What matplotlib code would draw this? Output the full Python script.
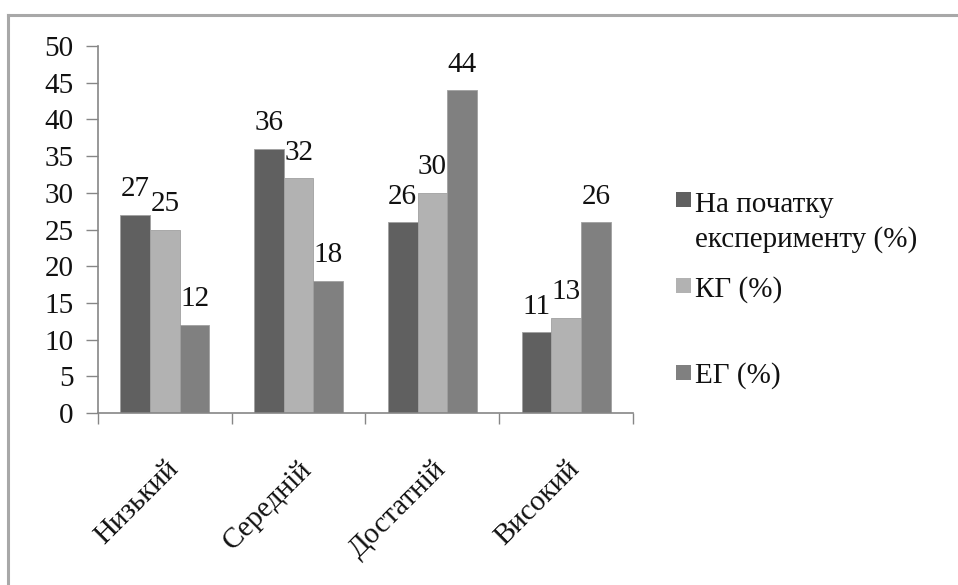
import matplotlib
matplotlib.use("Agg")
import matplotlib.pyplot as plt
import numpy as np
from matplotlib.lines import Line2D
from matplotlib import font_manager as fm

categories = ["Низький", "Середній", "Достатній", "Високий"]
legend_lines = [["На початку", "експерименту (%)"], ["КГ (%)"], ["ЕГ (%)"]]
start_vals = [27, 36, 26, 11]
kg_vals = [25, 32, 30, 13]
eg_vals = [12, 18, 44, 26]
yticks = [0, 5, 10, 15, 20, 25, 30, 35, 40, 45, 50]

colors = ["#606060", "#b2b2b2", "#808080"]
FS = 21

# locate the Liberation Serif regular file directly
serif_path = None
for f in fm.fontManager.ttflist:
    if f.fname.endswith("LiberationSerif-Regular.ttf"):
        serif_path = f.fname
        break
if serif_path is None:
    serif_path = fm.findfont(fm.FontProperties(family="Liberation Serif"))
fm.fontManager.addfont(serif_path)
FP = fm.FontProperties(fname=serif_path, size=FS)
plt.rcParams['font.family'] = 'Liberation Serif'

W, H = 958, 585
fig = plt.figure(figsize=(W/100, H/100), dpi=100)
ax = fig.add_axes([98/W, 1-413/H, (633-98)/W, (413-46)/H])

x = np.arange(len(categories))
bw = 1/4.5
series = [start_vals, kg_vals, eg_vals]
for i, vals in enumerate(series):
    pos = x + (i-1)*bw
    bars = ax.bar(pos, vals, width=bw, color=colors[i], edgecolor="#a0a0a0", linewidth=0.6, zorder=2)
    for b, v in zip(bars, vals):
        ax.annotate(str(v), (b.get_x()+b.get_width()/2, v), xytext=(0, 9), textcoords="offset points",
                    ha="center", va="bottom", color="#111111", fontproperties=FP)

ax.set_xlim(-0.5, 3.5)
ax.set_ylim(0, 50)
ax.set_yticks(yticks)
ax.tick_params(axis='y', direction='out', length=8.6, width=1, color="#868686", pad=9, labelcolor="#111111")
ax.set_xticks(x)
ax.set_xticklabels(categories, rotation=45, ha='right', rotation_mode='anchor', color="#111111", fontproperties=FP)
ax.tick_params(axis='x', length=0, pad=31)
ax.set_xticks(np.arange(-0.5, 4.0, 1.0), minor=True)
ax.tick_params(axis='x', which='minor', direction='out', length=8, width=1, color="#868686")
ax.set_yticklabels([str(t) for t in yticks], fontproperties=FP)
for s in ["top", "right"]:
    ax.spines[s].set_visible(False)
for s in ["left", "bottom"]:
    ax.spines[s].set_color("#868686")
    ax.spines[s].set_linewidth(1.2)

# figure border (chart area)
fig.add_artist(Line2D([8/W, 8/W], [0, 1-15/H], transform=fig.transFigure, color="#a8a8a8", lw=2.2))
fig.add_artist(Line2D([8/W, 1], [1-15/H, 1-15/H], transform=fig.transFigure, color="#a8a8a8", lw=2.2))

# legend
sq_tops = [192, 278, 365]
baselines = [[212, 247], [297], [383]]
for i, lines in enumerate(legend_lines):
    top = sq_tops[i]
    sq = plt.Rectangle((676/W, 1-(top+15)/H), 15/W, 15/H, transform=fig.transFigure,
                       facecolor=colors[i], edgecolor="none")
    fig.add_artist(sq)
    for line, bl in zip(lines, baselines[i]):
        fig.text(695/W, 1-bl/H, line, ha="left", va="baseline", color="#111111", fontproperties=FP)

fig.savefig("out.png", dpi=100, facecolor="white")
